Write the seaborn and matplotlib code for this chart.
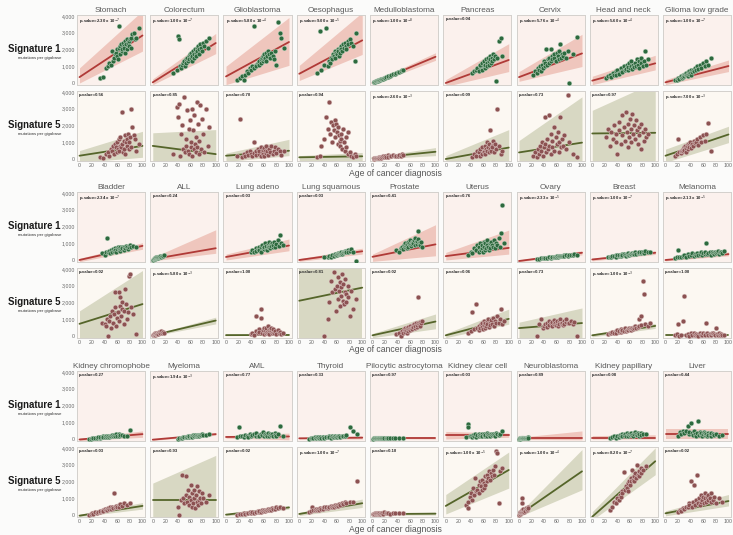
import matplotlib
matplotlib.use("Agg")
import matplotlib.pyplot as plt
import seaborn as sns
from matplotlib.ticker import FixedLocator, FuncFormatter

# ---------------------------------------------------------------- data
# Per cancer type: age at diagnosis of each sample, and its Signature 1 /
# Signature 5 burden (mutations per gigabase).

stomach_age = [33, 38, 42, 45, 47, 50, 52, 53, 55, 56, 58, 59, 60, 61, 62, 63, 64, 65, 66, 67,
               68, 69, 70, 71, 72, 73, 74, 75, 76, 77, 78, 79, 80, 81, 82, 84, 86, 88, 90, 95]
stomach_sig1 = [300, 350, 900, 1000, 1200, 1100, 1900, 1300, 1500, 1700, 1800, 1600, 2000, 1400, 3400,
                2100, 1700, 2200, 2300, 1900, 2000, 2400, 2200, 2100, 2500, 1800, 2300, 2600, 2000, 2400,
                2500, 2200, 2600, 2100, 2700, 2900, 3000, 2600, 2700, 3300]
stomach_sig5 = [100, 50, 300, 400, 200, 600, 500, 800, 300, 900, 700, 400, 1000, 600, 1200, 500, 800,
                1300, 700, 2800, 900, 400, 1100, 600, 1400, 300, 1000, 1200, 800, 1500, 600, 1000, 1300,
                2950, 700, 1900, 1400, 1200, 500, 900]

colorectum_age = [32, 38, 40, 42, 44, 45, 47, 48, 50, 51, 52, 53, 55, 56, 57, 58, 59, 60, 61, 62,
                  63, 64, 65, 66, 67, 68, 69, 70, 71, 72, 73, 74, 75, 76, 78, 80, 82, 84, 87, 90]
colorectum_sig1 = [600, 800, 2800, 2650, 1000, 900, 1100, 1200, 1300, 1000, 1400, 1200, 1500, 1300,
                   1600, 1400, 1700, 1500, 1800, 1300, 1600, 1900, 1700, 1500, 2000, 1800, 1600, 2100,
                   1900, 2200, 1700, 2000, 2300, 2100, 1900, 2400, 2200, 2500, 2100, 2700]
colorectum_sig5 = [300, 3100, 2500, 3300, 200, 1500, 2000, 600, 3700, 400, 1200, 800, 2900, 500, 1800,
                   300, 2300, 700, 1000, 3000, 200, 1700, 600, 2600, 900, 400, 1300, 3400, 700, 2100,
                   300, 1100, 3200, 600, 2400, 1500, 400, 3000, 800, 1900]

glioblastoma_age = [18, 22, 25, 28, 30, 33, 35, 38, 40, 42, 44, 45, 47, 48, 50, 52, 53, 55, 56, 57,
                    58, 59, 60, 61, 62, 63, 64, 65, 66, 68, 70, 72, 74, 76, 78, 80, 82, 85, 88, 92]
glioblastoma_sig1 = [200, 300, 400, 150, 500, 700, 600, 900, 800, 1000, 3400, 900, 1100, 1000, 1200,
                     1300, 1100, 1400, 1200, 1500, 1300, 1600, 1400, 1700, 1500, 1800, 1300, 1600, 1900,
                     1700, 1500, 1800, 1600, 1400, 1900, 1100, 3650, 3000, 2700, 2100]
glioblastoma_sig5 = [200, 2400, 100, 300, 150, 400, 250, 500, 300, 200, 1000, 350, 450, 250, 600, 300,
                     500, 200, 700, 400, 550, 300, 650, 200, 450, 750, 350, 500, 250, 600, 400, 800,
                     300, 500, 700, 350, 600, 450, 250, 500]

oesophagus_age = [28, 33, 35, 40, 43, 45, 47, 49, 50, 52, 53, 55, 56, 57, 58, 60, 61, 62, 63, 64,
                  65, 66, 67, 68, 70, 71, 72, 74, 75, 77, 78, 80, 82, 85, 88, 90]
oesophagus_sig1 = [600, 3100, 800, 1100, 3300, 1000, 1300, 1200, 1500, 1400, 1700, 1600, 1500, 1900,
                   1800, 1700, 2000, 1900, 1600, 2100, 1800, 2200, 2000, 1900, 2300, 2100, 2400, 2200,
                   2000, 2500, 2300, 2600, 2400, 2200, 1300, 3000]
oesophagus_sig5 = [100, 200, 800, 1200, 2500, 1800, 3400, 1500, 2200, 1000, 2000, 1700, 2300, 1300,
                   2100, 1600, 900, 1900, 1400, 1100, 800, 1500, 1200, 600, 1800, 1000, 500, 1300, 700,
                   1600, 300, 400, 200, 100, 300, 150]

medulloblastoma_age = [2, 3, 4, 5, 6, 7, 8, 9, 10, 11, 12, 13, 14, 15, 16, 18, 20, 22, 24, 25,
                       27, 30, 32, 35, 38, 40, 42, 45, 47, 48]
medulloblastoma_sig1 = [40, 60, 70, 90, 100, 110, 140, 150, 160, 180, 190, 210, 230, 250, 260, 290,
                        320, 350, 380, 400, 430, 480, 510, 560, 600, 640, 680, 720, 750, 780]
medulloblastoma_sig5 = [20, 30, 50, 40, 60, 80, 50, 70, 90, 60, 100, 120, 80, 110, 150, 100, 200, 130,
                        250, 120, 180, 160, 220, 150, 200, 170, 250, 190, 300, 230]

pancreas_age = [42, 45, 48, 50, 52, 54, 55, 57, 58, 60, 61, 62, 63, 64, 65, 66, 67, 68, 69, 70,
                71, 72, 73, 74, 75, 77, 78, 80, 82, 85, 88, 90]
pancreas_sig1 = [600, 700, 800, 900, 700, 1000, 1100, 800, 1200, 1000, 1300, 900, 1100, 1400, 1200,
                 1000, 1500, 1300, 1100, 1600, 1400, 1200, 1500, 1300, 1700, 1400, 1600, 100, 1500,
                 2500, 2700, 1600]
pancreas_sig5 = [100, 300, 200, 500, 400, 200, 600, 300, 700, 500, 400, 800, 300, 600, 1000, 500, 700,
                 400, 900, 600, 1700, 500, 800, 700, 1100, 400, 900, 600, 3000, 800, 300, 500]

cervix_age = [22, 25, 28, 30, 32, 33, 35, 37, 38, 40, 41, 42, 43, 45, 46, 47, 48, 50, 51, 52,
              53, 55, 56, 58, 60, 62, 63, 64, 65, 67, 68, 70, 72, 75, 78, 80, 85, 92]
cervix_sig1 = [500, 700, 600, 900, 800, 1000, 700, 1100, 900, 1300, 1000, 1200, 2000, 1100, 1400, 1200,
               1500, 2000, 1300, 1600, 1400, 1500, 1700, 1300, 1800, 1600, 1400, 1900, 2340, 1500,
               1700, 1600, 1800, 1500, 1900, 0, 1700, 2730]
cervix_sig5 = [200, 400, 100, 600, 300, 800, 500, 1000, 200, 700, 2500, 900, 400, 1200, 600, 2600, 800,
               1500, 300, 1100, 700, 1900, 500, 1300, 900, 1600, 400, 1000, 2500, 700, 1200, 800,
               1400, 600, 3800, 1000, 300, 100]

headneck_age = [22, 25, 28, 30, 33, 35, 37, 38, 40, 42, 43, 45, 47, 48, 50, 52, 53, 55, 56, 57,
                58, 60, 61, 62, 63, 65, 66, 68, 70, 71, 72, 74, 75, 77, 78, 80, 82, 84, 86, 88]
headneck_sig1 = [300, 400, 500, 350, 600, 450, 700, 500, 800, 600, 550, 900, 700, 650, 1000, 750, 850,
                 1100, 800, 950, 1200, 900, 1000, 1300, 850, 1100, 950, 1200, 1000, 1400, 1100, 1300,
                 900, 1200, 1500, 1000, 1300, 1900, 1100, 1400]
headneck_sig5 = [1300, 1800, 800, 1600, 1200, 2000, 1000, 1500, 300, 2200, 1700, 900, 1400, 2600, 1900,
                 1100, 2800, 1600, 700, 2100, 1300, 2400, 1800, 1000, 2700, 1500, 2000, 1200, 2300,
                 1700, 900, 1900, 1400, 2100, 600, 1600, 1100, 1800, 1300, 1500]

gliomalg_age = [15, 18, 20, 22, 24, 25, 26, 27, 28, 29, 30, 31, 32, 33, 34, 35, 36, 37, 38, 39,
                40, 41, 42, 43, 45, 47, 48, 50, 52, 55, 57, 60, 62, 65, 68, 72]
gliomalg_sig1 = [150, 200, 300, 250, 350, 400, 300, 450, 350, 500, 400, 550, 450, 600, 500, 400, 650,
                 550, 700, 600, 500, 750, 650, 800, 700, 900, 750, 1000, 850, 1100, 900, 1200, 1000,
                 1300, 1100, 1500]
gliomalg_sig5 = [200, 300, 1200, 400, 350, 500, 450, 600, 500, 700, 550, 800, 650, 400, 750, 900, 600,
                 850, 700, 1000, 800, 650, 900, 750, 1100, 950, 1000, 1200, 850, 1300, 1000, 1400,
                 1100, 1500, 2150, 500]

bladder_age = [35, 40, 42, 44, 45, 47, 48, 50, 52, 53, 55, 56, 57, 58, 60, 61, 62, 63, 64, 65,
               66, 67, 68, 70, 71, 72, 74, 75, 77, 78, 80, 82, 85, 90]
bladder_sig1 = [400, 300, 500, 1320, 450, 550, 400, 600, 500, 650, 550, 700, 600, 500, 650, 750, 600,
                700, 550, 800, 650, 750, 700, 600, 800, 700, 850, 750, 650, 800, 900, 750, 850, 800]
bladder_sig5 = [800, 700, 600, 1000, 0, 900, 1200, 500, 1500, 800, 1300, 2600, 1700, 600, 1100, 1400,
                2600, 900, 1800, 2300, 1200, 1600, 2000, 700, 1500, 2800, 1900, 1000, 1400, 3600,
                3700, 1700, 1300, 100]

all_age = [1, 2, 2, 3, 3, 4, 4, 5, 5, 6, 7, 8, 9, 10, 11, 12, 13, 14, 16, 18]
all_sig1 = [20, 50, 80, 60, 100, 90, 120, 110, 150, 130, 160, 140, 180, 200, 170, 220, 190, 250, 230, 280]
all_sig5 = [30, 60, 100, 50, 120, 80, 150, 90, 200, 110, 130, 170, 140, 250, 160, 190, 300, 200, 220, 180]

lungadeno_age = [40, 42, 45, 47, 48, 50, 52, 53, 55, 56, 57, 58, 60, 61, 62, 63, 64, 65, 66, 67,
                 68, 69, 70, 71, 72, 73, 74, 75, 76, 78, 80, 82, 84, 86, 88, 90]
lungadeno_sig1 = [500, 600, 450, 700, 550, 650, 800, 600, 750, 500, 900, 700, 650, 800, 1000, 700, 850,
                  600, 900, 750, 1100, 800, 700, 950, 850, 1000, 750, 900, 1100, 800, 950, 1200, 850,
                  1500, 1000, 900]
lungadeno_sig5 = [100, 200, 50, 300, 1200, 150, 400, 250, 1600, 1100, 200, 350, 100, 500, 300, 150, 450,
                  250, 600, 200, 350, 100, 400, 300, 500, 150, 250, 400, 200, 300, 100, 350, 150, 250,
                  100, 200]

lungsq_age = [40, 45, 48, 50, 52, 55, 57, 58, 60, 61, 62, 63, 64, 65, 66, 67, 68, 69, 70, 71,
              72, 73, 74, 75, 77, 78, 80, 82, 85, 90]
lungsq_sig1 = [150, 200, 250, 180, 300, 250, 350, 280, 300, 400, 330, 380, 350, 420, 400, 450, 380, 500,
               430, 470, 520, 480, 550, 500, 600, 450, 550, 650, 500, -50]
lungsq_sig5 = [0, 1000, 2000, 3300, 2600, 3800, 2800, 1500, 3000, 2200, 3500, 2700, 1800, 3200, 2400,
               2900, 3700, 2100, 3100, 1900, 3400, 2600, 2000, 2500, 3000, 2300, 1200, 2700, 1600, 2200]

prostate_age = [38, 42, 45, 47, 48, 50, 51, 52, 53, 54, 55, 56, 57, 58, 59, 60, 61, 62, 63, 64,
                65, 66, 67, 68, 69, 70, 71, 72, 73, 74, 75, 76, 77, 78]
prostate_sig1 = [600, 500, 700, 800, 650, 900, 750, 1000, 850, 700, 950, 1100, 800, 1000, 900, 1200,
                 850, 1050, 950, 1100, 1000, 1200, 900, 1300, 1050, 950, 1150, 1250, 1700, 1000, 1100,
                 900, 1050, 800]
prostate_sig5 = [100, 200, 0, 300, 150, 400, 250, 500, 350, 200, 450, 300, 550, 400, 350, 600, 450, 500,
                 400, 650, 550, 700, 500, 600, 750, 550, 650, 800, 2300, 700, 600, 850, 750, 900]

uterus_age = [35, 40, 42, 45, 48, 50, 52, 53, 55, 56, 57, 58, 59, 60, 61, 62, 63, 64, 65, 66,
              67, 68, 70, 71, 72, 73, 75, 77, 78, 80, 82, 84, 86, 88, 90, 92]
uterus_sig1 = [300, 500, 400, 700, 600, 900, 500, 800, 1000, 600, 700, 900, 500, 1100, 800, 600, 1000,
               700, 900, 1200, 800, 600, 1000, 700, 1100, 900, 800, 1200, 700, 1000, 900, 1300, 800,
               1600, 3300, 1000]
uterus_sig5 = [200, 300, 1400, 400, 1900, 500, 350, 600, 450, 700, 550, 800, 400, 650, 900, 500, 750,
               600, 850, 700, 1000, 550, 800, 650, 950, 700, 1100, 600, 900, 750, 1200, 800, 1000,
               1600, 700, 900]

ovary_age = [28, 32, 35, 38, 40, 42, 44, 45, 47, 48, 50, 52, 53, 55, 56, 57, 58, 60, 61, 62,
             63, 64, 65, 66, 68, 70, 71, 72, 74, 75, 77, 80, 82, 85, 88, 92]
ovary_sig1 = [50, 80, 100, 90, 120, 110, 140, 130, 150, 160, 140, 170, 180, 160, 190, 200, 180, 210,
              220, 200, 230, 240, 220, 250, 230, 260, 280, 250, 270, 300, 260, 280, 300, 320, 350, 300]
ovary_sig5 = [0, 700, 1000, 500, 600, 700, 800, 550, 900, 650, 750, 850, 600, 700, 950, 800, 650, 750,
              900, 600, 850, 700, 1000, 750, 800, 650, 900, 700, 850, 1000, 750, 800, 900, 700, 850, 0]

breast_age = [25, 28, 30, 32, 35, 37, 38, 40, 42, 43, 45, 46, 47, 48, 50, 52, 53, 55, 56, 57,
              58, 60, 61, 62, 63, 65, 66, 67, 68, 70, 72, 74, 75, 77, 78, 80, 82, 84, 88, 92]
breast_sig1 = [150, 200, 180, 250, 220, 300, 200, 280, 250, 320, 260, 300, 350, 280, 330, 300, 260, 350,
               320, 400, 300, 380, 350, 330, 420, 370, 400, 350, 450, 380, 420, 400, 480, 430, 450,
               500, 420, 550, 480, 450]
breast_sig5 = [100, 200, 150, 250, 200, 300, 180, 350, 250, 300, 220, 400, 280, 350, 300, 450, 320, 380,
               400, 350, 500, 420, 380, 450, 500, 400, 550, 450, 600, 500, 550, 1000, 600, 1200, 650,
               3300, 2500, 700, 600, 800]

melanoma_age = [15, 18, 20, 22, 25, 28, 30, 32, 35, 38, 40, 42, 45, 47, 48, 50, 52, 55, 57, 58,
                60, 62, 63, 65, 66, 68, 70, 72, 74, 75, 77, 78, 80, 82, 84, 85, 87, 88, 90, 93]
melanoma_sig1 = [100, 150, 600, 200, 150, 250, 300, 200, 350, 250, 300, 400, 250, 350, 300, 400, 300,
                 350, 450, 300, 400, 350, 450, 1000, 350, 400, 500, 300, 450, 400, 350, 500, 400, 450,
                 550, 350, 500, 450, 400, 550]
melanoma_sig5 = [50, 100, 700, 0, 50, 900, 2400, 50, 100, 0, 150, 50, 200, 30, 100, 50, 0, 150, 80, 50,
                 200, 100, 50, 800, 150, 30, 100, 50, 200, 150, 100, 50, 500, 100, 50, 150, 80, 100,
                 50, 30]

kchromo_age = [15, 18, 20, 22, 25, 28, 30, 32, 33, 35, 37, 38, 40, 42, 43, 45, 47, 48, 50, 52,
               53, 55, 57, 58, 60, 62, 63, 65, 68, 70, 75, 80]
kchromo_sig1 = [0, 20, 50, 30, 80, 60, 100, 50, 120, 90, 150, 110, 130, 160, 100, 180, 140, 200, 170,
                220, 150, 250, 190, 280, 200, 300, 180, 250, 230, 200, 180, 550]
kchromo_sig5 = [0, 50, 100, 80, 150, 120, 200, 180, 250, 220, 300, 260, 350, 300, 280, 400, 350, 450,
                380, 500, 420, 1320, 480, 550, 500, 600, 450, 650, 550, 700, 600, 700]

myeloma_age = [40, 42, 45, 47, 48, 50, 52, 53, 55, 56, 57, 58, 60, 61, 62, 63, 64, 65, 66, 67,
               68, 70, 71, 72, 73, 74, 75, 77, 78, 80, 85, 90]
myeloma_sig1 = [0, 50, 80, 60, 100, 120, 90, 140, 110, 160, 130, 180, 150, 200, 170, 140, 220, 190,
                160, 240, 200, 180, 250, 210, 230, 190, 260, 220, 270, 240, 250, 280]
myeloma_sig5 = [500, 0, 900, 2400, 1000, 700, 1200, 2300, 800, 1500, 600, 1100, 1800, 900, 500, 1300,
                700, 1000, 1500, 400, 1200, 800, 1700, 600, 1400, 900, 1000, 700, 1300, 1000, 800, 1200]

aml_age = [18, 20, 22, 25, 28, 30, 33, 35, 38, 40, 42, 45, 47, 48, 50, 52, 53, 55, 57, 58,
           60, 62, 63, 65, 67, 68, 70, 72, 73, 75, 77, 78, 80, 82, 85, 90]
aml_sig1 = [100, 720, 150, 200, 120, 250, 180, 100, 300, 150, 220, 280, 180, 350, 200, 250, 150, 300,
            220, 400, 180, 280, 250, 200, 350, 150, 300, 220, 280, 200, 350, 250, 200, 300, 800, 150]
aml_sig5 = [0, 50, 80, 30, 100, 60, 120, 90, 150, 110, 180, 130, 200, 160, 220, 180, 250, 200, 280, 230,
            300, 250, 320, 270, 350, 300, 380, 320, 400, 350, 420, 380, 450, 400, 480, 420]

thyroid_age = [15, 18, 20, 22, 25, 27, 28, 30, 32, 33, 35, 37, 38, 40, 42, 43, 45, 47, 48, 50,
               52, 53, 55, 57, 58, 60, 62, 63, 65, 68, 70, 72, 75, 80, 85, 92]
thyroid_sig1 = [20, 50, 80, 60, 100, 70, 120, 90, 50, 110, 80, 130, 100, 60, 140, 90, 120, 150, 100, 80,
                160, 130, 110, 170, 140, 120, 180, 150, 130, 200, 160, 180, 220, 700, 500, 300]
thyroid_sig5 = [200, 250, 500, 300, 280, 350, 320, 380, 300, 400, 350, 420, 380, 450, 400, 480, 420, 500,
                460, 520, 480, 550, 500, 580, 540, 600, 560, 650, 600, 700, 650, 750, 700, 800, 750, 2000]

pilocytic_age = [1, 2, 3, 4, 5, 6, 7, 8, 9, 10, 11, 12, 13, 14, 15, 17, 19, 21, 23, 25, 28, 32, 36, 42, 48]
pilocytic_sig1 = [20, 40, 30, 60, 50, 40, 70, 30, 60, 50, 80, 40, 70, 50, 60, 40, 80, 50, 70, 60, 50, 80,
                  60, 70, 50]
pilocytic_sig5 = [40, 80, 60, 100, 70, 120, 90, 60, 110, 80, 130, 70, 100, 90, 120, 80, 150, 90, 110, 100,
                  80, 120, 90, 110, 100]

kclear_age = [32, 35, 36, 38, 40, 42, 43, 45, 47, 48, 50, 52, 53, 55, 56, 57, 58, 60, 61, 62,
              63, 65, 66, 67, 68, 70, 72, 73, 75, 77, 78, 80, 82, 84, 86, 90]
kclear_sig1 = [100, 900, 700, 150, 200, 100, 250, 180, 300, 120, 220, 280, 150, 250, 200, 320, 180, 260,
               300, 150, 230, 350, 200, 280, 250, 180, 320, 220, 300, 260, 200, 350, 280, 250, 300, 450]
kclear_sig5 = [600, 800, 400, 1100, 1300, 900, 1600, 1200, 2200, 1400, 1500, 1800, 1300, 2000, 1700, 1500,
               2100, 1900, 1600, 2300, 1800, 2400, 2000, 2200, 2600, 2100, 2500, 2300, 2700, 2400, 2900,
               3800, 3700, 700, 2600, 2800]

neuro_age = [0, 1, 1, 2, 2, 3, 3, 4, 4, 5, 5, 6, 6, 7, 8, 9, 10, 11, 12, 13, 14, 15]
neuro_sig1 = [10, 20, 30, 20, 40, 30, 50, 40, 60, 30, 50, 40, 70, 50, 60, 40, 80, 50, 70, 60, 90, 70]
neuro_sig5 = [0, 50, 100, 80, 150, 120, 200, 300, 180, 990, 700, 250, 150, 350, 200, 300, 250, 400, 300,
              350, 450, 400]

kpap_age = [28, 32, 35, 38, 40, 42, 44, 45, 47, 48, 50, 52, 53, 55, 56, 57, 58, 60, 61, 62,
            63, 65, 66, 67, 68, 70, 71, 72, 74, 75, 77, 78, 80, 85]
kpap_sig1 = [50, 100, 150, 80, 200, 120, 250, 180, 300, 150, 220, 280, 200, 350, 250, 180, 320, 220, 300,
             380, 250, 200, 350, 280, 400, 300, 250, 350, 200, 300, 380, 250, 320, 280]
kpap_sig5 = [300, 500, 800, 700, 1000, 900, 1200, 1100, 1400, 1300, 2540, 1500, 1700, 1600, 1900, 1400,
             2000, 1800, 2200, 2000, 2700, 2100, 2300, 2000, 2500, 2200, 3000, 2400, 2300, 2600, 2800,
             2500, 2700, 2900]

liver_age = [20, 23, 25, 28, 30, 32, 35, 37, 38, 40, 42, 43, 45, 47, 48, 50, 52, 53, 55, 56,
             57, 58, 60, 61, 62, 63, 65, 66, 67, 68, 70, 72, 73, 75, 77, 80, 85, 90]
liver_sig1 = [200, 400, 300, 500, 350, 450, 800, 300, 400, 970, 350, 250, 450, 300, 200, 350, 1100, 250,
              400, 300, 350, 200, 300, 400, 250, 350, 300, 200, 350, 250, 300, 200, 350, 300, 250, 300,
              200, 250]
liver_sig5 = [200, 300, 250, 400, 350, 500, 450, 700, 600, 2000, 500, 800, 1800, 600, 900, 2400, 700,
              1000, 600, 1200, 800, 900, 1100, 700, 1000, 1300, 800, 1100, 900, 1200, 1000, 800, 1300,
              900, 1100, 700, 1000, 800]

# Fitted trend per panel: value at age 0, value at age 100, and the shaded
# interval (low/high at age 0, low/high at age 100).
AGE_SPAN = [0, 100]
FIT_SIG1 = {
    "Stomach": (350, 2830, 0, 900, 1900, 4300),
    "Colorectum": (40, 2380, -100, 250, 1750, 2950),
    "Glioblastoma": (390, 2440, -100, 1000, 1050, 3900),
    "Oesophagus": (550, 2540, 150, 1050, 1700, 4200),
    "Medulloblastoma": (0, 1560, -80, 80, 1350, 1800),
    "Pancreas": (0, 1370, -200, 200, 680, 2340),
    "Cervix": (350, 1760, 100, 680, 980, 2900),
    "Head and neck": (140, 1170, -100, 400, 780, 1650),
    "Glioma low grade": (40, 1010, -100, 200, 680, 1370),
    "Bladder": (0, 840, -100, 100, 640, 1030),
    "ALL": (50, 700, -50, 150, 400, 1800),
    "Lung adeno": (180, 860, 0, 350, 550, 1250),
    "Lung squamous": (0, 520, -80, 80, 350, 700),
    "Prostate": (190, 930, -80, 350, 250, 2100),
    "Uterus": (230, 720, 0, 450, 350, 1780),
    "Ovary": (-60, 430, -100, 0, 300, 550),
    "Breast": (30, 430, -50, 100, 330, 550),
    "Melanoma": (0, 350, -50, 60, 250, 480),
    "Kidney chromophobe": (-30, 290, -100, 40, 100, 480),
    "Myeloma": (-40, 290, -80, 0, 220, 360),
    "AML": (120, 150, 50, 200, -50, 350),
    "Thyroid": (40, 80, 0, 80, 0, 180),
    "Pilocytic astrocytoma": (60, 60, 20, 100, 0, 140),
    "Kidney clear cell": (220, 220, 0, 450, 100, 350),
    "Neuroblastoma": (30, 30, -30, 100, -50, 480),
    "Kidney papillary": (80, 80, 0, 200, 0, 250),
    "Liver": (290, 290, 0, 580, 0, 580),
}
FIT_SIG5 = {
    "Stomach": (195, 780, -200, 500, 100, 1650),
    "Colorectum": (780, 290, -200, 1560, -300, 1750),
    "Glioblastoma": (195, 490, -150, 350, 200, 1170),
    "Oesophagus": (100, 160, -100, 200, -100, 390),
    "Medulloblastoma": (50, 430, 0, 100, 200, 680),
    "Pancreas": (0, 680, -200, 200, -100, 1750),
    "Cervix": (390, 975, -200, 1100, -200, 3700),
    "Head and neck": (1520, 1560, -500, 2900, -500, 4600),
    "Glioma low grade": (195, 1460, -200, 585, 975, 1950),
    "Bladder": (725, 1900, -700, 1500, -500, 3900),
    "ALL": (40, 920, 0, 80, 720, 1120),
    "Lung adeno": (50, 60, 0, 100, 0, 100),
    "Lung squamous": (2100, 2880, -1000, 5000, -1000, 5000),
    "Prostate": (40, 860, -100, 150, 430, 1310),
    "Uterus": (40, 1020, -100, 150, 700, 1600),
    "Ovary": (470, 770, -200, 820, -200, 1670),
    "Breast": (40, 600, -50, 120, 450, 750),
    "Melanoma": (30, 30, 0, 60, 0, 60),
    "Kidney chromophobe": (-40, 540, -100, 40, 350, 740),
    "Myeloma": (900, 900, -300, 1900, -300, 3550),
    "AML": (20, 450, -50, 80, 350, 550),
    "Thyroid": (60, 700, -30, 150, 450, 950),
    "Pilocytic astrocytoma": (50, 80, 0, 100, 0, 160),
    "Kidney clear cell": (540, 2680, 60, 1220, 1600, 3750),
    "Neuroblastoma": (0, 2600, -100, 100, 1500, 3900),
    "Kidney papillary": (-100, 3200, -300, 200, 2400, 4000),
    "Liver": (100, 830, -50, 250, 540, 1220),
}

PVAL_SIG1 = {
    "Stomach": r"p-value=2.30 x 10$^{-7}$", "Colorectum": r"p-value=1.00 x 10$^{-7}$",
    "Glioblastoma": r"p-value=5.80 x 10$^{-4}$", "Oesophagus": r"p-value=9.00 x 10$^{-5}$",
    "Medulloblastoma": r"p-value=1.00 x 10$^{-8}$", "Pancreas": "p-value=0.04",
    "Cervix": r"p-value=5.76 x 10$^{-4}$", "Head and neck": r"p-value=5.60 x 10$^{-4}$",
    "Glioma low grade": r"p-value=1.00 x 10$^{-7}$",
    "Bladder": r"p-value=2.34 x 10$^{-7}$", "ALL": "p-value=0.24", "Lung adeno": "p-value=0.03",
    "Lung squamous": "p-value=0.03", "Prostate": "p-value=0.41", "Uterus": "p-value=0.76",
    "Ovary": r"p-value=2.33 x 10$^{-5}$", "Breast": r"p-value=1.00 x 10$^{-7}$",
    "Melanoma": r"p-value=2.13 x 10$^{-5}$",
    "Kidney chromophobe": "p-value=0.27", "Myeloma": r"p-value=1.94 x 10$^{-3}$",
    "AML": "p-value=0.77", "Thyroid": "p-value=0.33", "Pilocytic astrocytoma": "p-value=0.97",
    "Kidney clear cell": "p-value=0.03", "Neuroblastoma": "p-value=0.89",
    "Kidney papillary": "p-value=0.08", "Liver": "p-value=0.44",
}
PVAL_SIG5 = {
    "Stomach": "p-value=0.56", "Colorectum": "p-value=0.85", "Glioblastoma": "p-value=0.70",
    "Oesophagus": "p-value=0.94", "Medulloblastoma": r"p-value=2.60 x 10$^{-3}$",
    "Pancreas": "p-value=0.09", "Cervix": "p-value=0.73", "Head and neck": "p-value=0.97",
    "Glioma low grade": r"p-value=7.00 x 10$^{-3}$",
    "Bladder": "p-value=0.02", "ALL": r"p-value=5.80 x 10$^{-3}$", "Lung adeno": "p-value=1.00",
    "Lung squamous": "p-value=0.81", "Prostate": "p-value=0.02", "Uterus": "p-value=0.06",
    "Ovary": "p-value=0.73", "Breast": r"p-value=1.00 x 10$^{-3}$", "Melanoma": "p-value=1.00",
    "Kidney chromophobe": "p-value=0.03", "Myeloma": "p-value=0.93", "AML": "p-value=0.02",
    "Thyroid": r"p-value=1.00 x 10$^{-7}$", "Pilocytic astrocytoma": "p-value=0.10",
    "Kidney clear cell": r"p-value=1.00 x 10$^{-5}$", "Neuroblastoma": r"p-value=1.00 x 10$^{-4}$",
    "Kidney papillary": r"p-value=8.20 x 10$^{-7}$", "Liver": "p-value=0.02",
}

BLOCKS = [
    [("Stomach", stomach_age, stomach_sig1, stomach_sig5),
     ("Colorectum", colorectum_age, colorectum_sig1, colorectum_sig5),
     ("Glioblastoma", glioblastoma_age, glioblastoma_sig1, glioblastoma_sig5),
     ("Oesophagus", oesophagus_age, oesophagus_sig1, oesophagus_sig5),
     ("Medulloblastoma", medulloblastoma_age, medulloblastoma_sig1, medulloblastoma_sig5),
     ("Pancreas", pancreas_age, pancreas_sig1, pancreas_sig5),
     ("Cervix", cervix_age, cervix_sig1, cervix_sig5),
     ("Head and neck", headneck_age, headneck_sig1, headneck_sig5),
     ("Glioma low grade", gliomalg_age, gliomalg_sig1, gliomalg_sig5)],
    [("Bladder", bladder_age, bladder_sig1, bladder_sig5),
     ("ALL", all_age, all_sig1, all_sig5),
     ("Lung adeno", lungadeno_age, lungadeno_sig1, lungadeno_sig5),
     ("Lung squamous", lungsq_age, lungsq_sig1, lungsq_sig5),
     ("Prostate", prostate_age, prostate_sig1, prostate_sig5),
     ("Uterus", uterus_age, uterus_sig1, uterus_sig5),
     ("Ovary", ovary_age, ovary_sig1, ovary_sig5),
     ("Breast", breast_age, breast_sig1, breast_sig5),
     ("Melanoma", melanoma_age, melanoma_sig1, melanoma_sig5)],
    [("Kidney chromophobe", kchromo_age, kchromo_sig1, kchromo_sig5),
     ("Myeloma", myeloma_age, myeloma_sig1, myeloma_sig5),
     ("AML", aml_age, aml_sig1, aml_sig5),
     ("Thyroid", thyroid_age, thyroid_sig1, thyroid_sig5),
     ("Pilocytic astrocytoma", pilocytic_age, pilocytic_sig1, pilocytic_sig5),
     ("Kidney clear cell", kclear_age, kclear_sig1, kclear_sig5),
     ("Neuroblastoma", neuro_age, neuro_sig1, neuro_sig5),
     ("Kidney papillary", kpap_age, kpap_sig1, kpap_sig5),
     ("Liver", liver_age, liver_sig1, liver_sig5)],
]

Y_TICKS = [0, 1000, 2000, 3000, 4000]
X_TICKS = [0, 20, 40, 60, 80, 100]

# ---------------------------------------------------------------- style
sns.set_theme(style="white")
plt.rcParams["font.family"] = ["Liberation Sans", "DejaVu Sans"]

FIG_BG = "#fbfbfa"
SIG1 = dict(bg="#fbf1ed", band="#efc6bd", line="#b03a37", point="#2d6a3e", edge="#d9e6d9")
SIG5 = dict(bg="#fcf8f2", band="#d8d8c3", line="#55652a", point="#8c5252", edge="#ead9d6")

W, H = 733, 535
fig = plt.figure(figsize=(W / 100, H / 100), dpi=100, facecolor=FIG_BG)


def add_panel(left, top, width, height, bg):
    ax = fig.add_axes([left / W, 1 - (top + height) / H, width / W, height / H], facecolor=bg)
    for sp in ax.spines.values():
        sp.set_color("#d3d0cc")
        sp.set_linewidth(0.7)
    return ax


def draw(ax, ages, vals, fit, style, pval):
    n = min(len(ages), len(vals))
    y0, y100, lo0, hi0, lo100, hi100 = fit
    ax.fill_between(AGE_SPAN, [lo0, lo100], [hi0, hi100], color=style["band"], lw=0, zorder=1)
    sns.lineplot(x=AGE_SPAN, y=[y0, y100], ax=ax, color=style["line"], lw=1.3, zorder=2)
    sns.scatterplot(x=ages[:n], y=vals[:n], ax=ax, color=style["point"], s=12,
                    edgecolor=style["edge"], linewidth=0.3, zorder=3, legend=False)
    ax.set_xlim(-4, 104)
    ax.set_ylim(-120, 4050)
    ax.xaxis.set_major_locator(FixedLocator(X_TICKS))
    ax.yaxis.set_major_locator(FixedLocator(Y_TICKS))
    ax.yaxis.set_major_formatter(FuncFormatter(lambda v, _: f"{int(v):,}"))
    ax.tick_params(length=0, labelsize=3.8, colors="#666666", pad=1.5)
    ax.set_xlabel("")
    ax.set_ylabel("")
    ax.text(0.03, 0.975, pval, transform=ax.transAxes, fontsize=3.1, va="top", ha="left",
            color="#2b2b2b", fontweight="bold")


BLOCK_TOPS = [15, 192, 371]
PANEL_W, PANEL_H, ROW_GAP = 68, 70, 76
COL_LEFT0, COL_STEP = 77, 73.25
LABEL_FONT = ["Liberation Sans Narrow", "Liberation Sans", "DejaVu Sans"]

for top, block in zip(BLOCK_TOPS, BLOCKS):
    for c, (name, ages, s1, s5) in enumerate(block):
        left = COL_LEFT0 + c * COL_STEP
        ax1 = add_panel(left, top, PANEL_W, PANEL_H, SIG1["bg"])
        ax5 = add_panel(left, top + ROW_GAP, PANEL_W, PANEL_H, SIG5["bg"])
        draw(ax1, ages, s1, FIT_SIG1[name], SIG1, PVAL_SIG1[name])
        draw(ax5, ages, s5, FIT_SIG5[name], SIG5, PVAL_SIG5[name])
        ax1.tick_params(labelbottom=False)
        if c > 0:
            ax1.tick_params(labelleft=False)
            ax5.tick_params(labelleft=False)
        ax1.set_title(name, fontsize=5.9, color="#5a5a5a", pad=2.2)

    for k, row_top in enumerate([top, top + ROW_GAP]):
        fig.text(61 / W, 1 - (row_top + 34) / H, f"Signature {1 if k == 0 else 5}",
                 ha="right", va="center", fontsize=6.9, fontweight="bold", color="#1a1a1a",
                 family=LABEL_FONT)
        fig.text(61 / W, 1 - (row_top + 43) / H, "mutations per gigabase",
                 ha="right", va="center", fontsize=3.1, color="#333333")
    fig.text(395 / W, 1 - (top + 158) / H, "Age of cancer diagnosis",
             ha="center", va="center", fontsize=6.2, color="#555555")

fig.savefig("out.png", dpi=100, facecolor=FIG_BG)
